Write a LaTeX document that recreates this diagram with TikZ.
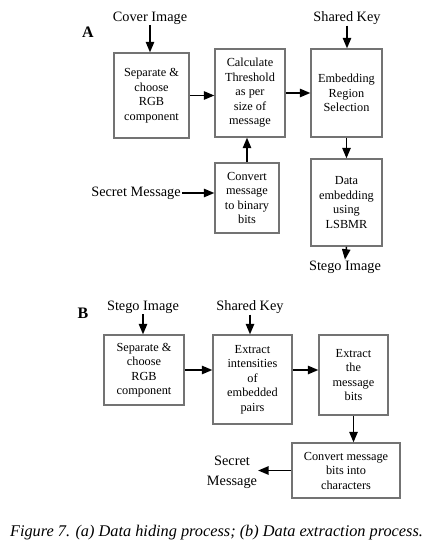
\documentclass[tikz,border=0pt]{standalone}
\usepackage{fontspec}
\setmainfont{Liberation Serif}
\usetikzlibrary{arrows,shapes}
\tikzstyle{flow} = [draw,line width=1.4pt,-triangle 45]

\begin{document}
\begin{tikzpicture}
[x=1pt,y=-1pt,
block/.style={shape=rectangle,draw=black!55,line width=1.5pt,fill=white,align=center,inner sep=2pt,font=\fontsize{12.3}{14.5}\selectfont},
inout/.style={align=center,inner sep=1pt,font=\fontsize{14.3}{16}\selectfont},
panel/.style={font=\fontsize{16}{18}\selectfont\bfseries}]

\useasboundingbox (0,0) rectangle (434,548);

%% blocks of both processes
\foreach \nodename/\x/\y/\w/\h/\txt in {
sep/151.5/95.5/75/85/{Separate \&\\choose\\RGB\\component},
calc/250/93/70/88/{Calculate\\Threshold\\as per\\size of\\message},
region/346.5/93/71/88/{Embedding\\Region\\Selection},
conv/247/198/64/70/{Convert\\message\\to binary\\bits},
embed/346.5/202.5/71/87/{Data\\embedding\\using\\LSBMR},
bsep/144/370/80/70/{Separate \&\\choose\\RGB\\component},
bext/252.5/379.5/79/89/{Extract\\intensities\\of\\embedded\\pairs},
bbits/353.5/375/69/80/{Extract\\the\\message\\bits},
bconv/346/470.5/108/55/{Convert message\\bits into\\characters}}
{
\node (\nodename) at (\x,\y) [block,minimum width=\w,minimum height=\h] {\txt};
}

%% inputs and outputs
\foreach \nodename/\x/\y/\txt in {
cover/150/18/Cover Image, key/347/18/Shared Key, secret/136/193/Secret Message,
stego/345/267/Stego Image, stegoB/143/307/Stego Image, keyB/250/307/Shared Key,
secretB/232/472/{Secret\\[4pt]Message}}
{
\node (\nodename) at (\x,\y) [inout] {\txt};
}

\node (partA) at (88,32) [panel] {A};
\node (partB) at (83,313) [panel] {B};
\node (caption) at (216.5,533) [font=\fontsize{16.3}{18}\selectfont\itshape] {Figure 7. (a) Data hiding process; (b) Data extraction process.};

%% arrows
\path
\foreach \startnode/\endnode in {
cover.south/cover.south |- sep.north, key.south/key.south |- region.north,
sep.east/sep.east -| calc.west, calc.east/calc.east -| region.west,
conv.north/conv.north |- calc.south, secret.east/secret.east -| conv.west,
region.south/region.south |- embed.north, embed.south/stego.north,
stegoB.south/stegoB.south |- bsep.north, keyB.south/keyB.south |- bext.north,
bsep.east/bsep.east -| bext.west, bsep.east -| bext.east/bsep.east -| bbits.west,
bbits.south/bbits.south |- bconv.north, bconv.west/bconv.west -| secretB.east}
{
(\startnode) edge[flow] (\endnode)
};

\end{tikzpicture}
\end{document}
